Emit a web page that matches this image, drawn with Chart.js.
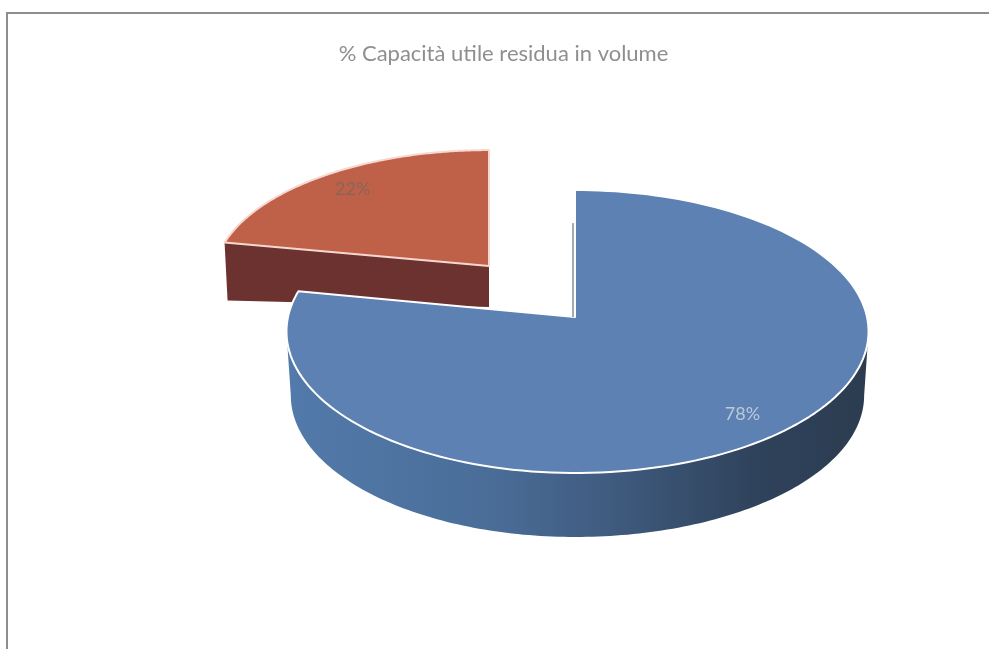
<!DOCTYPE html>
<html lang="it">
<head>
<meta charset="utf-8">
<title>% Capacità utile residua in volume</title>
<script src="https://cdn.jsdelivr.net/npm/chart.js@4"></script>
<style>
  html, body { margin: 0; background: #fff; }
  #wrap { position: relative; width: 989px; height: 649px; overflow: hidden; }
  #frame { position: absolute; left: 6px; top: 12px; right: 0; bottom: -4px;
           border-left: 2px solid #8d8f88; border-top: 2px solid #8d8f88; }
  canvas { position: absolute; left: 0; top: 0; }
</style>
</head>
<body>
<div id="wrap">
  <div id="frame"></div>
  <canvas id="pie" width="989" height="649"></canvas>
</div>
<script>
// ── Data ───────────────────────────────────────────────────────────────────

const CATEGORIES = ['Capacità utile residua', 'Capacità occupata'];
const PERCENT    = [78, 22];
const TITLE      = '% Capacità utile residua in volume';

// ── Look of the slices ─────────────────────────────────────────────────────

const TOP_COLORS   = ['#5c81b2', '#bf6149'];
const EDGE_COLORS  = ['#ffffff', '#f7d8cf'];
const LABEL_COLORS = ['#bcc8d8', '#86665a'];
const LABEL_RADII  = [0.84, 0.83];

// projection of the unit disc on screen; k gives the perspective
const DISC = { bLeft: 287, bRight: 292, a: 140, k: 0.1025, floorScale: 0.985, depth: 64 };

// where each slice's tip sits; the small one is pulled out and back
const PLACES = [
  { cx: 575, cy: 317, sx: 1,     sy: 1 },
  { cx: 489, cy: 266, sx: 0.956, sy: 0.913 }
];

const project = (place, theta, r = 1, drop = 0) => {
  const u = Math.cos(theta) * r;
  const v = -Math.sin(theta) * r;
  const w = 1 + DISC.k * v;
  const b = u < 0 ? DISC.bLeft : DISC.bRight;
  const shrink = drop ? DISC.floorScale : 1;
  return {
    x: place.cx + place.sx * b * u / w * shrink,
    y: place.cy - place.sy * DISC.a * v / w + drop
  };
};

const trace = (ctx, pts) => {
  ctx.beginPath();
  pts.forEach((p, i) => i ? ctx.lineTo(p.x, p.y) : ctx.moveTo(p.x, p.y));
  ctx.closePath();
};

const rimPoints = (place, from, to, drop = 0) => {
  const pts = [];
  for (let i = 0; i <= 160; i++) {
    pts.push(project(place, from + (to - from) * i / 160, 1, drop));
  }
  return pts;
};

// ── 3D pie ─────────────────────────────────────────────────────────────────

const drawBlueWall = (ctx, arc) => {
  const place = PLACES[0];
  // the wall runs between the two widest points of the ellipse
  const side = Math.asin(DISC.k);
  const from = Math.max(arc.startAngle, side);
  const to   = Math.min(arc.endAngle, Math.PI - side);
  const wall = rimPoints(place, from, to).concat(rimPoints(place, to, from, DISC.depth));
  const g = ctx.createLinearGradient(288, 0, 867, 0);
  g.addColorStop(0,    '#527aaa');
  g.addColorStop(0.35, '#4a6d98');
  g.addColorStop(0.6,  '#3d5779');
  g.addColorStop(0.8,  '#2f435c');
  g.addColorStop(1,    '#2c3c50');
  trace(ctx, wall);
  ctx.fillStyle = g;
  ctx.fill();
};

const drawRedWall = (ctx, arc) => {
  const place = PLACES[1];
  const corner = project(place, arc.startAngle);
  const tip = { x: place.cx, y: place.cy };
  trace(ctx, [
    corner, tip,
    { x: tip.x, y: tip.y + 41 },
    { x: corner.x + 3, y: corner.y + 58 }
  ]);
  ctx.fillStyle = '#6b3230';
  ctx.fill();
};

const drawTop = (ctx, arc, i) => {
  const place = PLACES[i];
  const pts = rimPoints(place, arc.startAngle, arc.endAngle);
  pts.push({ x: place.cx, y: place.cy });
  trace(ctx, pts);
  ctx.fillStyle = TOP_COLORS[i];
  ctx.fill();
  ctx.strokeStyle = EDGE_COLORS[i];
  ctx.lineWidth = 2;
  ctx.lineJoin = 'round';
  ctx.stroke();
};

const drawLabel = (ctx, arc, i) => {
  const mid = (arc.startAngle + arc.endAngle) / 2;
  const p = project(PLACES[i], mid, LABEL_RADII[i]);
  ctx.font = '18px Lato';
  ctx.textAlign = 'center';
  ctx.textBaseline = 'middle';
  ctx.fillStyle = LABEL_COLORS[i];
  ctx.fillText(PERCENT[i] + '%', p.x, p.y);
};

const pie3d = {
  id: 'pie3d',
  beforeDatasetsDraw(chart) {
    const { ctx } = chart;
    const arcs = chart.getDatasetMeta(0).data;
    ctx.save();

    // the pulled-out slice stands behind the big one
    drawRedWall(ctx, arcs[1]);
    drawTop(ctx, arcs[1], 1);
    drawBlueWall(ctx, arcs[0]);
    drawTop(ctx, arcs[0], 0);

    // thin sliver of the inner wall beside the notch
    const tip = PLACES[0];
    const up  = project(tip, arcs[0].startAngle, 0.72);
    ctx.beginPath();
    ctx.moveTo(tip.cx - 2, tip.cy);
    ctx.lineTo(up.x - 2, up.y);
    ctx.strokeStyle = '#45586f';
    ctx.lineWidth = 1;
    ctx.stroke();

    arcs.forEach((arc, i) => drawLabel(ctx, arc, i));
    ctx.restore();
    return false;
  }
};

// ── Chart ──────────────────────────────────────────────────────────────────

new Chart(document.getElementById('pie').getContext('2d'), {
  type: 'pie',
  data: {
    labels: CATEGORIES,
    datasets: [{ data: PERCENT, backgroundColor: TOP_COLORS, borderColor: EDGE_COLORS }]
  },
  options: {
    responsive: false,
    animation: false,
    layout: { padding: { left: 18, top: 41 } },
    plugins: {
      legend: { display: false },
      tooltip: { enabled: false },
      title: {
        display: true,
        text: TITLE,
        color: '#8f8f8f',
        font: { family: 'Lato', size: 22, weight: 'normal' },
        padding: { top: 0, bottom: 0 }
      }
    }
  },
  plugins: [pie3d]
});
</script>
</body>
</html>
